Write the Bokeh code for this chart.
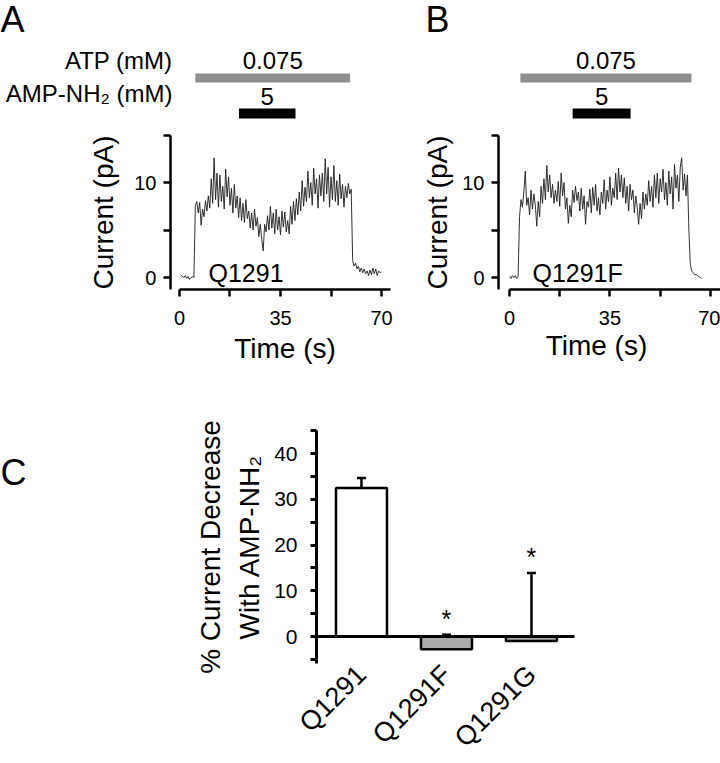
import math
import numpy as np
from bokeh.plotting import figure
from bokeh.layouts import column, row
from bokeh.models import (FixedTicker, ColumnDataSource, Range1d, LinearAxis,
                          Whisker, TeeHead)
from bokeh.core.properties import value
from bokeh.embed import file_html
from bokeh.resources import INLINE

FONT = "Liberation Sans"

# ---------------- data ----------------
# Panel A: Q1291 current trace (pA), sampled every 0.5 s from t = 0.5 s
a_name = "Q1291"
a_t0 = 0.5
a_dt = 0.5
a_current = [
    0.3, 0.1, 0.0, 0.2, -0.1, 0.1, -0.2, 0.0, 0.1, 0.0,
    7.6, 8.0, 6.8, 7.9, 5.5, 7.2, 6.4, 8.1, 7.0, 8.6,
    7.3, 10.4, 7.8, 12.6, 8.2, 11.0, 7.4, 10.8, 8.0, 9.6,
    7.2, 11.4, 8.5, 10.6, 7.6, 9.4, 6.8, 9.8, 7.3, 8.6,
    6.3, 8.4, 6.0, 7.8, 5.8, 8.2, 6.2, 7.0, 5.2, 6.8,
    5.0, 7.2, 5.4, 6.3, 4.3, 5.6, 4.0, 2.8, 5.6, 4.8,
    6.5, 5.0, 7.5, 5.2, 6.8, 4.6, 7.2, 5.0, 6.4, 4.5,
    7.0, 5.3, 6.9, 4.8, 6.0, 4.6, 7.5, 5.6, 8.0, 6.0,
    8.3, 6.6, 9.0, 7.0, 10.2, 7.5, 9.5, 8.0, 11.2, 8.4,
    10.0, 7.6, 11.5, 8.8, 10.4, 7.3, 10.8, 8.6, 11.0, 8.0,
    12.5, 8.8, 11.6, 7.4, 10.6, 8.2, 11.8, 8.0, 10.2, 7.6,
    10.9, 8.3, 9.8, 7.4, 9.6, 8.4, 9.9, 8.8, 9.3, 1.8,
    1.2, 1.5, 0.9, 1.2, 0.6, 1.0, 0.5, 0.9, 0.4, 0.7,
    0.2, 0.8, 0.3, 1.0, 0.4, 0.9, 0.2, 0.7, 0.5, 0.6,
]

# Panel B: Q1291F current trace (pA), sampled every 0.5 s from t = 0 s
b_name = "Q1291F"
b_t0 = 0.0
b_dt = 0.5
b_current = [
    0.1, -0.1, 0.2, 0.0, 0.2, -0.1, 0.1, 6.4, 8.2, 7.4,
    9.0, 11.2, 7.6, 8.4, 6.6, 9.2, 7.2, 8.8, 7.6, 5.4,
    8.0, 6.4, 9.6, 7.8, 10.4, 8.2, 11.8, 9.0, 10.8, 8.4,
    9.8, 7.8, 9.2, 8.0, 10.1, 7.5, 11.0, 8.6, 10.0, 7.2,
    8.4, 5.7, 7.6, 6.4, 9.2, 7.9, 9.6, 8.1, 9.0, 7.0,
    9.4, 7.2, 8.6, 5.6, 8.0, 7.4, 9.3, 6.8, 9.5, 7.6,
    9.8, 7.0, 8.4, 6.6, 9.0, 7.8, 10.3, 7.2, 9.2, 8.0,
    10.6, 7.6, 9.4, 8.4, 11.0, 8.2, 11.5, 9.0, 10.8, 8.4,
    10.5, 7.8, 9.6, 7.0, 9.8, 8.2, 9.2, 6.8, 8.6, 7.4,
    5.6, 7.8, 6.2, 9.0, 7.2, 8.8, 7.6, 10.2, 8.0, 9.6,
    7.4, 10.8, 8.4, 11.0, 7.8, 10.4, 9.0, 11.4, 8.2, 10.0,
    7.6, 11.2, 8.8, 10.6, 7.2, 11.9, 9.4, 10.8, 8.0, 11.6,
    12.6, 9.2, 10.9, 8.6, 10.8, 5.0, 1.4, 0.7, 0.5, 0.3,
    0.3, 0.2, 0.1, 0.0, -0.1,
]

atp_label = "ATP (mM)"
amp_label = "AMP-NH\u2082 (mM)"
atp_conc = "0.075"
amp_conc = "5"
a_atp_on, a_atp_off = 5.5, 59.1
a_amp_on, a_amp_off = 20.6, 40.2
b_atp_on, b_atp_off = 3.8, 63.4
b_amp_on, b_amp_off = 22.0, 42.2

time_ticks = [0, 35, 70]
time_minor_ticks = [17.5, 52.5]
current_ticks = [0, 10]
current_minor_ticks = [5, 15]

# Panel C: % current decrease with AMP-NH2
mutants = ["Q1291", "Q1291F", "Q1291G"]
pct_mean = [32.5, -2.8, -1.0]
pct_sem = [2.2, 3.2, 14.9]
pct_sig = ["", "*", "*"]
pct_ticks = [0, 10, 20, 30, 40]
pct_minor_ticks = [-5, 5, 15, 25, 35, 45]

# ---------------- styling helpers ----------------
GRAY_BAR = "#8e8e8e"
BAR_FILL = ["white", "#ababab", "#ababab"]


def txt(p, x, y, s, size, align="left", yoff=0.0):
    """Text with alphabetic baseline (small correction for the renderer)."""
    p.text(x=[x], y=[y], text=[s], text_align=align,
           text_baseline="alphabetic", y_offset=yoff - 0.4 * size,
           text_font=value(FONT), text_font_size=f"{size}px",
           text_color="black")


def style_axis(ax, lw, tick_len, font_px, standoff):
    ax.axis_line_width = lw
    ax.axis_line_color = "black"
    ax.major_tick_line_width = lw
    ax.minor_tick_line_width = lw
    ax.major_tick_line_color = "black"
    ax.minor_tick_line_color = "black"
    ax.major_tick_out = tick_len
    ax.major_tick_in = 0
    ax.minor_tick_out = tick_len
    ax.minor_tick_in = 0
    ax.major_label_text_font = FONT
    ax.major_label_text_font_size = f"{font_px}px"
    ax.major_label_text_color = "black"
    ax.major_label_standoff = standoff
    ax.axis_label_text_font = FONT
    ax.axis_label_text_font_style = "normal"
    ax.axis_label_text_color = "black"


def new_fig(width, height, xr, yr):
    p = figure(width=width, height=height, output_backend="svg",
               toolbar_location=None, x_range=Range1d(*xr), y_range=Range1d(*yr),
               min_border=0, min_border_left=0, min_border_right=0,
               min_border_top=0, min_border_bottom=0)
    p.outline_line_color = None
    p.grid.visible = False
    p.background_fill_color = "white"
    return p


YR = (-10.63, 29.16)       # pA for the whole top row (canvas 0..378)
X_AXIS_Y = -1.263          # where the time axis sits (pA)


def trace_panel(width, xr, yaxis_x, t0, dt, cur, atp_on, atp_off, amp_on,
                amp_off, name, name_x, letter, letter_x, ylab_standoff,
                show_xlabel, xbound):
    p = new_fig(width, 378, xr, YR)

    t = t0 + dt * np.arange(len(cur))
    p.line(t, cur, line_color="#1c1c1c", line_width=0.9)

    # solution application bars
    p.hbar(y=[21.0], left=[atp_on], right=[atp_off], height=0.95,
           fill_color=GRAY_BAR, line_color=None)
    p.hbar(y=[17.26], left=[amp_on], right=[amp_off], height=1.05,
           fill_color="black", line_color=None)
    txt(p, (atp_on + atp_off) / 2, 21.79, atp_conc, 24, "center")
    txt(p, (amp_on + amp_off) / 2, 18.0, amp_conc, 24, "center")
    txt(p, name_x, -0.53, name, 25, "left")
    txt(p, letter_x, 25.63, letter, 36, "left")

    p.xaxis.fixed_location = X_AXIS_Y
    p.yaxis.fixed_location = yaxis_x
    p.xaxis.ticker = FixedTicker(ticks=time_ticks, minor_ticks=time_minor_ticks)
    p.yaxis.ticker = FixedTicker(ticks=current_ticks, minor_ticks=current_minor_ticks)
    p.xaxis.bounds = (0, xbound)
    p.yaxis.bounds = (X_AXIS_Y, 15)
    style_axis(p.xaxis[0], 2.5, 7, 20, 14)
    style_axis(p.yaxis[0], 2.5, 7, 20, 7)
    p.yaxis.axis_label = "Current (pA)"
    p.yaxis.axis_label_text_font_size = "28px"
    p.yaxis.axis_label_standoff = ylab_standoff
    if show_xlabel:
        p.xaxis.axis_label = "Time (s)"
        p.xaxis.axis_label_text_font_size = "28px"
        p.xaxis.axis_label_standoff = 5
    return p


pA = trace_panel(400, (-62.02, 76.58), -3.12, a_t0, a_dt, a_current,
                 a_atp_on, a_atp_off, a_amp_on, a_amp_off, a_name, 10.05,
                 "A", -62.0, 12, True, 73)
txt(pA, -2.43, 21.79, atp_label, 24, "right")
txt(pA, -2.43, 18.32, amp_label, 24, "right")

pB = trace_panel(320, (-37.98, 73.52), -3.833, b_t0, b_dt, b_current,
                 b_atp_on, b_atp_off, b_amp_on, b_amp_off, b_name, 8.0,
                 "B", -29.27, 6, False, 73.5)
txt(pB, 30.3, -8.32, "Time (s)", 28, "center")

# ---------------- panel C ----------------
pos = list(np.arange(1, len(mutants) + 1))
Y_AXIS_POS = 0.471
pC = new_fig(720, 385, (-3.247, 5.224), (-27.79, 56.46))

src = ColumnDataSource(dict(
    x=pos,
    mean=pct_mean,
    upper=[m + s for m, s in zip(pct_mean, pct_sem)],
    sig=pct_sig,
    fill=BAR_FILL,
))
pC.vbar(x="x", top="mean", bottom=0, width=0.6, source=src,
        fill_color="fill", line_color="black", line_width=2.5)
pC.add_layout(Whisker(source=src, base="x", lower="mean", upper="upper",
                      dimension="height", line_width=2.5, line_color="black",
                      upper_head=TeeHead(size=9, line_width=2.5, line_color="black"),
                      lower_head=None))
pC.text(x="x", y="upper", text="sig", source=src, text_align="center",
        text_baseline="alphabetic", y_offset=-16, text_font=value(FONT),
        text_font_size="25px", text_color="black")
txt(pC, -3.247, 32.8, "C", 36, "left")

# y axis
pC.yaxis.fixed_location = Y_AXIS_POS
pC.yaxis.ticker = FixedTicker(ticks=pct_ticks, minor_ticks=pct_minor_ticks)
pC.yaxis.bounds = (-6, 45)
style_axis(pC.yaxis[0], 3, 6, 21, 13)
pC.yaxis.axis_label = "% Current Decrease\nWith AMP-NH\u2082"
pC.yaxis.axis_label_text_font_size = "28px"
pC.yaxis.axis_label_text_line_height = 1.25
pC.yaxis.axis_label_standoff = 6

# category labels axis
xa = pC.xaxis[0]
xa.fixed_location = -6.0
xa.ticker = FixedTicker(ticks=pos)
xa.major_label_overrides = {int(k): m for k, m in zip(pos, mutants)}
xa.axis_line_color = None
xa.major_tick_line_color = None
xa.minor_tick_line_color = None
xa.major_label_orientation = math.pi / 4
xa.major_label_text_font = FONT
xa.major_label_text_font_size = "27px"
xa.major_label_text_color = "black"
xa.major_label_standoff = 0

# zero baseline as an axis line
zero_ax = LinearAxis(fixed_location=0, bounds=(Y_AXIS_POS, 3.506),
                     ticker=FixedTicker(ticks=[]), axis_line_width=3,
                     axis_line_color="black", major_tick_line_color=None,
                     minor_tick_line_color=None, major_label_text_font_size="0px")
pC.add_layout(zero_ax, "below")

layout = column(row(pA, pB), pC)
open("out.html", "w").write(file_html(layout, INLINE))
